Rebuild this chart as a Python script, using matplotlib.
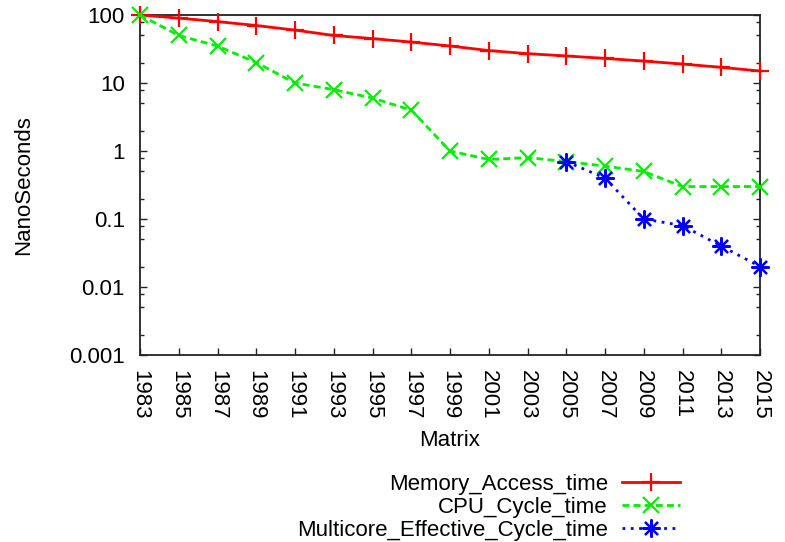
import matplotlib
matplotlib.use('Agg')
import matplotlib.pyplot as plt
import matplotlib.transforms as mtransforms
from matplotlib.ticker import LogLocator, FixedLocator, NullFormatter

plt.rcParams['font.family'] = ['Liberation Sans', 'DejaVu Sans']

years = [1983, 1985, 1987, 1989, 1991, 1993, 1995, 1997, 1999,
         2001, 2003, 2005, 2007, 2009, 2011, 2013, 2015]
memory_access = [100, 90, 80, 70, 60, 50, 45, 40, 35,
                 30, 27, 25, 23, 21, 19, 17, 15]
cpu_cycle = [100, 50, 35, 20, 10, 8, 6, 4, 1.0,
             0.75, 0.8, 0.7, 0.6, 0.5, 0.3, 0.3, 0.3]
multi_years = [2005, 2007, 2009, 2011, 2013, 2015]
multicore_cycle = [0.7, 0.4, 0.1, 0.08, 0.04, 0.02]
ytick_vals = [0.001, 0.01, 0.1, 1, 10, 100]
ytick_labels = ['0.001', '0.01', '0.1', '1', '10', '100']

fs = 16

fig = plt.figure(figsize=(7.85, 5.42), dpi=100)
fig.patch.set_facecolor('white')
ax = fig.add_axes([140 / 785, 1 - 355 / 542, 620 / 785, 340 / 542])

ax.plot(years, memory_access, color='#ff0000', lw=2, ls='-', marker='+',
        ms=13, mew=1.6, label='Memory_Access_time', clip_on=False, zorder=3)
ax.plot(years, cpu_cycle, color='#00ee00', lw=2, ls=(0, (2.5, 1.5)), marker='x',
        ms=12, mew=1.6, label='CPU_Cycle_time', clip_on=False, zorder=3)
ax.plot(multi_years, multicore_cycle, color='#0000ff', lw=2, ls=(0, (1, 2)),
        marker=(8, 2, 0), ms=13, mew=1.6, label='Multicore_Effective_Cycle_time',
        clip_on=False, zorder=4)

ax.set_yscale('log')
ax.set_ylim(0.001, 100)
ax.set_xlim(1983, 2015)
ax.yaxis.set_major_locator(FixedLocator(ytick_vals))
ax.set_yticklabels(ytick_labels)
ax.yaxis.set_minor_locator(LogLocator(base=10, subs=(2, 5, 8)))
ax.yaxis.set_minor_formatter(NullFormatter())
ax.set_xticks(years)
ax.set_xticklabels([str(y) for y in years], rotation=-90, va='top', ha='center')
offset = mtransforms.ScaledTranslation(11 / 100, 0, fig.dpi_scale_trans)
for lbl in ax.get_xticklabels():
    lbl.set_transform(lbl.get_transform() + offset)

ax.tick_params(axis='y', which='both', direction='in', left=True, right=True,
               labelsize=fs, pad=11, color='#222222')
ax.tick_params(axis='y', which='major', length=5, width=1)
ax.tick_params(axis='y', which='minor', length=3, width=1)
ax.tick_params(axis='x', which='major', direction='in', bottom=True, top=False,
               length=5, width=1, labelsize=fs, pad=11, color='#222222')
for sp in ax.spines.values():
    sp.set_linewidth(1.3)
    sp.set_color('#222222')

ax.set_ylabel('NanoSeconds', fontsize=fs, labelpad=25)
ax.set_xlabel('Matrix', fontsize=fs, labelpad=7)

fig.legend(loc='upper right', bbox_to_anchor=(680 / 785, 1 - 474 / 542),
           frameon=False, markerfirst=False, numpoints=1, fontsize=fs,
           handlelength=2.6, handletextpad=0.65, labelspacing=0.08,
           borderpad=0, borderaxespad=0)

fig.savefig('out.png', dpi=100)
